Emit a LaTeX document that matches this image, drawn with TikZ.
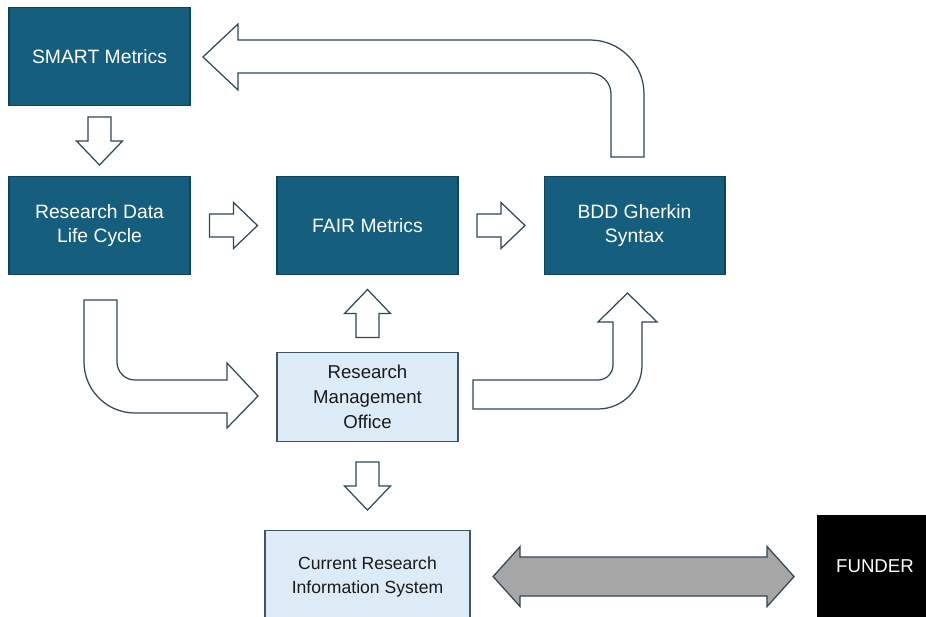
\documentclass[tikz,border=0pt]{standalone}
\usepackage{fontspec}
\setmainfont{Liberation Sans}
\usepackage{tikz}
\usetikzlibrary{positioning,calc}
\definecolor{boxblue}{HTML}{165E7E}
\definecolor{boxedge}{HTML}{0F445C}
\definecolor{paleblue}{HTML}{DDEBF7}
\definecolor{paleedge}{HTML}{3E5566}
\definecolor{arrowedge}{HTML}{2E4756}
\definecolor{arrowgrey}{HTML}{A6A6A6}

\begin{document}
\begin{tikzpicture}[
        x=0.02cm, y=-0.02cm,
        node distance=1.4cm and 1.72cm,
        darkbox/.style={
            draw=boxedge,
            line width=0.6pt,
            fill=boxblue,
            text=white,
            align=center,
            minimum width=3.62cm,
            minimum height=1.96cm,
            font=\fontsize{11}{14.2}\selectfont
        },
        palebox/.style={
            draw=paleedge,
            line width=0.6pt,
            fill=paleblue,
            text=black!90,
            align=center,
            minimum width=3.62cm,
            minimum height=1.78cm,
            font=\fontsize{10.6}{14.2}\selectfont
        },
        hollow/.style={draw=arrowedge, line width=0.7pt, fill=white, line join=miter},
        blockarrow/.pic={
            \draw[hollow] (-11.5,-24) -- (11.5,-24) -- (11.5,0) -- (23,0)
                -- (0,24) -- (-23,0) -- (-11.5,0) -- cycle;
        },
        twoway/.pic={
            \draw[hollow, fill=arrowgrey] (-150.5,0) -- (-123.5,-30) -- (-123.5,-19.5)
                -- (123.5,-19.5) -- (123.5,-30) -- (150.5,0) -- (123.5,30)
                -- (123.5,19.5) -- (-123.5,19.5) -- (-123.5,30) -- cycle;
        }
    ]
        \useasboundingbox (0,0) rectangle (926,617);

        % Blocos principais
        \node[darkbox] (smart) at (99.5,56.5) {SMART Metrics};
        \node[darkbox, below=of smart] (rdlc) {Research Data\\Life Cycle};
        \node[darkbox, right=of rdlc] (fair) {FAIR Metrics};
        \node[darkbox, right=1.7cm of fair] (bdd) {BDD Gherkin\\Syntax};

        % Escritorio e sistema
        \node[palebox, below=1.54cm of fair] (rmo) {Research\\Management\\Office};
        \node[palebox, below=1.76cm of rmo, minimum width=4.1cm, minimum height=1.84cm,
              font=\fontsize{10}{13.6}\selectfont] (cris) {Current Research\\Information System};
        \node[draw=black, fill=black, text=white, minimum width=2.32cm, minimum height=2.04cm,
              font=\fontsize{10.6}{13}\selectfont] (funder) at (875,566) {FUNDER};

        % Setas retas
        \pic at ($(smart.south)!0.5!(rdlc.north)$) {blockarrow};
        \pic[rotate=90] at ($(rdlc.east)!0.5!(fair.west)$) {blockarrow};
        \pic[rotate=90] at ($(fair.east)!0.5!(bdd.west)$) {blockarrow};
        \pic[rotate=180] at ($(rmo.north)!0.5!(fair.south)$) {blockarrow};
        \pic at ($(rmo.south)!0.5!(cris.north)$) {blockarrow};
        \pic at ($(cris.east)!0.5!(cris.east -| funder.west)$) {twoway};

        % Setas curvas
        \draw[hollow] (644,157) -- (644,94) arc[start angle=0, end angle=-90, radius=54]
            -- (238,40) -- (238,24) -- (203,57) -- (238,90) -- (238,73) -- (590,73)
            arc[start angle=-90, end angle=0, radius=21] -- (611,157) -- cycle;
        \draw[hollow] (84,300) -- (84,362) arc[start angle=180, end angle=90, radius=51]
            -- (227,413) -- (227,428) -- (258,396) -- (227,363) -- (227,380) -- (135,380)
            arc[start angle=90, end angle=180, radius=18] -- (117,300) -- cycle;
        \draw[hollow] (473,380) -- (598,380) arc[start angle=90, end angle=0, radius=15]
            -- (613,322) -- (598,322) -- (627.5,293) -- (657,322) -- (642,322) -- (642,365)
            arc[start angle=0, end angle=90, radius=44] -- (473,409) -- cycle;
    \end{tikzpicture}
\end{document}
